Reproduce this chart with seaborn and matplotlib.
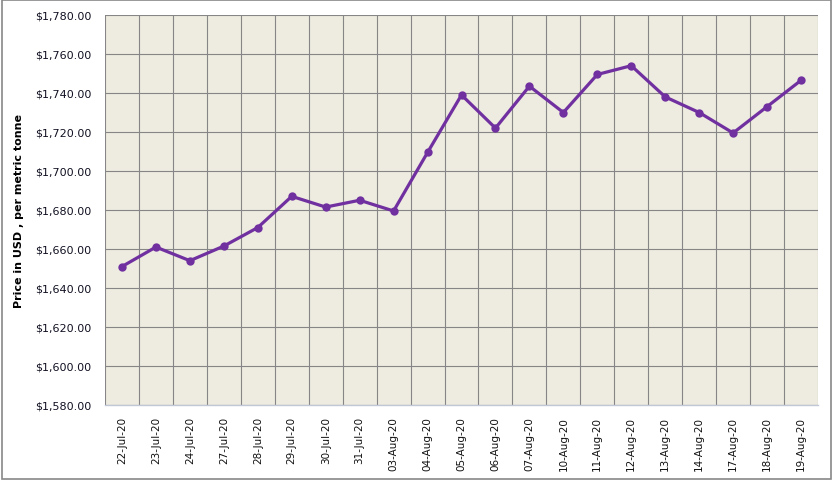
import matplotlib
matplotlib.use("Agg")
import matplotlib.pyplot as plt
import matplotlib.ticker as mticker
import seaborn as sns
import pandas as pd
import numpy as np

dates = ["22-Jul-20", "23-Jul-20", "24-Jul-20", "27-Jul-20", "28-Jul-20", "29-Jul-20",
         "30-Jul-20", "31-Jul-20", "03-Aug-20", "04-Aug-20", "05-Aug-20", "06-Aug-20",
         "07-Aug-20", "10-Aug-20", "11-Aug-20", "12-Aug-20", "13-Aug-20", "14-Aug-20",
         "17-Aug-20", "18-Aug-20", "19-Aug-20"]
prices = [1651, 1661, 1654, 1661.5, 1671, 1687, 1681.5, 1685, 1679.5, 1709.5, 1739,
          1722, 1743.5, 1730, 1749.5, 1754, 1738, 1730, 1719.5, 1733, 1746.5]

df = pd.DataFrame({"date": dates, "price": prices})

sns.set_theme(style="white")
plt.rcParams['font.family'] = ['DejaVu Sans']

fig = plt.figure(figsize=(8.33, 4.81), dpi=100)
ax = fig.add_axes([105/833, 1 - 406/481, (818-105)/833, (406-16)/481])
ax.set_facecolor("#EEEBE0")

sns.lineplot(data=df, x="date", y="price", sort=False, color="#7030A0",
             linewidth=2.3, marker="o", markersize=6, markeredgewidth=0, ax=ax)

n = len(dates)
ax.set_xlim(-0.5, n - 0.5)
ax.set_ylim(1580, 1780)
ax.yaxis.set_major_locator(mticker.MultipleLocator(20))
ax.yaxis.set_major_formatter(mticker.FuncFormatter(lambda v, p: f"${v:,.2f}"))
ax.set_xticks(range(n))
ax.set_xticklabels(dates, rotation=90, fontsize=7.5, color="#111111")
ax.set_xticks(np.arange(-0.5, n, 1), minor=True)
ax.tick_params(axis="y", labelsize=8, length=0, pad=10, labelcolor="#111122")
ax.tick_params(axis="x", which="both", length=0, pad=8)

ax.grid(False)
ax.grid(axis="x", which="minor", color="#868686", linewidth=0.8)
ax.grid(axis="y", which="major", color="#868686", linewidth=0.8)
ax.set_axisbelow(True)
for s in ["top", "right", "left"]:
    ax.spines[s].set_visible(False)
ax.spines["bottom"].set_color("#C0C8D8")
ax.spines["bottom"].set_linewidth(1)

ax.set_xlabel("")
ax.set_ylabel("Price in USD , per metric tonne", fontsize=8, fontweight="bold", labelpad=8,
              color="#000000")

fig.patches.append(plt.Rectangle((0.002, 0.003), 0.996, 0.994, transform=fig.transFigure,
                                 fill=False, edgecolor="#888888", linewidth=1.2))

fig.savefig("out.png", dpi=100)
